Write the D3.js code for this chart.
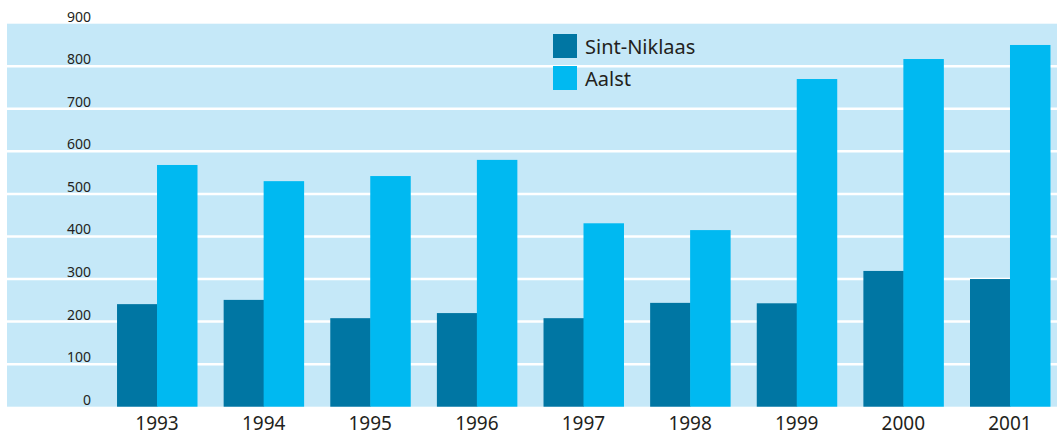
<!DOCTYPE html>
<html>
<head>
<meta charset="utf-8">
<script src="https://cdn.jsdelivr.net/npm/d3@7"></script>
<style>
    body { margin: 0; background: #fff; }
    text { font-family: "Noto Sans", "Open Sans", sans-serif; fill: #231f20; }
</style>
</head>
<body>
<div id="chart"></div>
<script>
// data
var years = ["1993", "1994", "1995", "1996", "1997", "1998", "1999", "2000", "2001"];
var sintNiklaas = [241, 251, 208, 220, 208, 244, 243, 319, 300];
var aalst = [568, 530, 542, 580, 431, 415, 770, 817, 850];
var seriesNames = ["Sint-Niklaas", "Aalst"];
var seriesColors = ["#0076a3", "#00b9f1"];
var yTicks = [0, 100, 200, 300, 400, 500, 600, 700, 800, 900];

var width = 1057,
    height = 435;

var svg = d3
    .select("#chart")
    .append("svg")
    .attr("width", width)
    .attr("height", height);

var y = d3.scaleLinear().domain([0, 900]).range([406.7, 23.7]);

var x = d3
    .scaleBand()
    .domain(years)
    .range([103.7, 1063.3])
    .paddingInner(0.25)
    .paddingOuter(0.125);

var xSub = d3
    .scaleBand()
    .domain(seriesNames)
    .range([0, x.bandwidth()]);

// background panel
svg.append("rect")
    .attr("x", 7)
    .attr("y", y(900))
    .attr("width", width - 7)
    .attr("height", y(0) - y(900))
    .style("fill", "#c5e8f8");

// white grid lines
svg.append("g")
    .selectAll("line")
    .data(yTicks.filter(function (d) { return d > 0 && d < 900; }))
    .enter()
    .append("line")
    .attr("x1", 7)
    .attr("x2", width)
    .attr("y1", function (d) { return y(d); })
    .attr("y2", function (d) { return y(d); })
    .style("stroke", "#fff")
    .style("stroke-width", 2.5);

// y labels sit just above their grid line
svg.append("g")
    .selectAll("text")
    .data(yTicks)
    .enter()
    .append("text")
    .attr("x", 91)
    .attr("y", function (d) { return y(d) - 2; })
    .attr("text-anchor", "end")
    .style("font-size", "14px")
    .text(function (d) { return d; });

// bars
var rows = years.map(function (yr, i) {
    return { year: yr, values: [sintNiklaas[i], aalst[i]] };
});

var groups = svg.append("g")
    .selectAll("g")
    .data(rows)
    .enter()
    .append("g")
    .attr("transform", function (d) { return "translate(" + x(d.year) + ",0)"; });

groups.selectAll("rect")
    .data(function (d) {
        return d.values.map(function (v, j) { return { name: seriesNames[j], value: v, color: seriesColors[j] }; });
    })
    .enter()
    .append("rect")
    .attr("x", function (d) { return xSub(d.name); })
    .attr("width", xSub.bandwidth() + 0.5)
    .attr("y", function (d) { return y(d.value); })
    .attr("height", function (d) { return y(0) - y(d.value); })
    .style("fill", function (d) { return d.color; });

// x axis labels
svg.append("g")
    .selectAll("text")
    .data(years)
    .enter()
    .append("text")
    .attr("x", function (d) { return x(d) + x.bandwidth() / 2; })
    .attr("y", 430)
    .attr("text-anchor", "middle")
    .style("font-size", "19px")
    .text(function (d) { return d; });

// legend
var legend = svg.append("g").attr("transform", "translate(553,34)");

legend.selectAll("rect")
    .data(seriesColors)
    .enter()
    .append("rect")
    .attr("x", 0)
    .attr("y", function (d, i) { return i * 32; })
    .attr("width", 24)
    .attr("height", 24)
    .style("fill", function (d) { return d; });

legend.selectAll("text")
    .data(seriesNames)
    .enter()
    .append("text")
    .attr("x", 32)
    .attr("y", function (d, i) { return 20 + i * 32; })
    .style("font-size", "20px")
    .text(function (d) { return d; });
</script>
</body>
</html>
